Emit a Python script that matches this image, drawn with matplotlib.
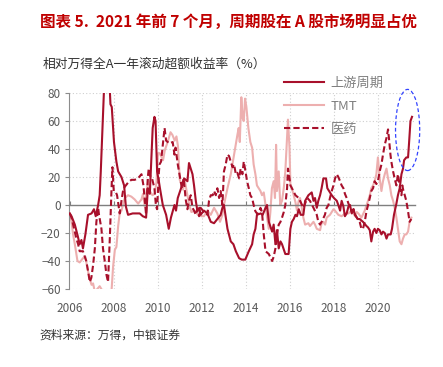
import matplotlib
matplotlib.use("Agg")
import matplotlib.pyplot as plt
from matplotlib.patches import Ellipse

plt.rcParams['font.family'] = ['Noto Sans CJK SC', 'DejaVu Sans']

# ---------------- data ----------------
up_years = [2006.00, 2006.08, 2006.23, 2006.36, 2006.45, 2006.53, 2006.60, 2006.71, 2006.83, 2006.99,
            2007.10, 2007.18, 2007.29, 2007.36, 2007.41, 2007.47, 2007.55, 2007.64, 2007.77, 2007.85,
            2007.91, 2008.01, 2008.12, 2008.20, 2008.35, 2008.47, 2008.55, 2008.65, 2008.86, 2009.18,
            2009.32, 2009.47, 2009.55, 2009.64, 2009.77, 2009.85, 2009.90, 2009.97, 2010.05, 2010.10,
            2010.23, 2010.38, 2010.50, 2010.60, 2010.76, 2010.83, 2010.91, 2011.06, 2011.20, 2011.35,
            2011.42, 2011.58, 2011.65, 2011.73, 2011.80, 2011.89, 2011.95, 2012.10, 2012.26, 2012.41,
            2012.56, 2012.71, 2012.86, 2012.94, 2013.01, 2013.17, 2013.32, 2013.44, 2013.55, 2013.70,
            2013.82, 2013.98, 2014.14, 2014.29, 2014.36, 2014.44, 2014.51, 2014.68, 2014.77, 2014.90,
            2014.97, 2015.05, 2015.20, 2015.27, 2015.35, 2015.42, 2015.50, 2015.58, 2015.65, 2015.80,
            2015.95, 2016.03, 2016.10, 2016.18, 2016.26, 2016.33, 2016.41, 2016.50, 2016.62, 2016.70,
            2016.85, 2017.00, 2017.08, 2017.15, 2017.23, 2017.30, 2017.38, 2017.45, 2017.53, 2017.65,
            2017.71, 2017.79, 2017.91, 2018.01, 2018.14, 2018.21, 2018.29, 2018.36, 2018.44, 2018.51,
            2018.59, 2018.67, 2018.74, 2018.82, 2018.90, 2018.97, 2019.09, 2019.18, 2019.33, 2019.49,
            2019.56, 2019.64, 2019.71, 2019.79, 2019.86, 2019.94, 2020.01, 2020.09, 2020.17, 2020.24,
            2020.32, 2020.40, 2020.47, 2020.59, 2020.65, 2020.74, 2020.85, 2020.92, 2021.00, 2021.08,
            2021.15, 2021.20, 2021.30, 2021.38, 2021.42, 2021.49, 2021.56]
up_vals = [-6, -8, -14, -22, -28, -25, -31, -21, -7, -6,
           -3, -8, 0, 7, 24, 48, 80, 100, 100, 72,
           70, 45, 31, 24, 20, 14, -1, -7, -6, -6,
           -8, -9, 12, 8, 55, 63, 60, 24, 17, 12,
           0, -7, -17, -9, 0, -4, 5, 12, 19, 17,
           30, 22, 14, 3, -4, -2, -7, -4, -6, -12,
           -13, -10, -7, -2, 0, -17, -26, -28, -33, -38,
           -39, -39, -33, -28, -21, -17, -7, -6, -7, -2,
           0, -12, -19, -14, -28, -18, -31, -26, -28, -35,
           -35, -17, -12, -10, -7, -8, -3, -7, -7, 3,
           7, 9, 3, 5, -2, 3, 7, 12, 19, 19,
           12, 10, 7, 5, 3, 0, -4, 3, -1, -8,
           -6, -1, 0, -6, -3, -7, -10, -10, -12, -15,
           -16, -18, -26, -19, -17, -20, -17, -18, -21, -19,
           -20, -24, -21, -21, -17, -7, 1, 7, 12, 22,
           26, 32, 34, 34, 43, 60, 63]

tmt_years = [2006.00, 2006.08, 2006.15, 2006.23, 2006.35, 2006.45, 2006.60, 2006.71, 2006.80, 2006.91,
             2006.99, 2007.06, 2007.14, 2007.36, 2007.55, 2007.80, 2007.90, 2007.97, 2008.05, 2008.12,
             2008.20, 2008.27, 2008.35, 2008.50, 2008.65, 2008.80, 2008.95, 2009.11, 2009.26, 2009.33,
             2009.41, 2009.48, 2009.56, 2009.64, 2009.76, 2009.86, 2009.94, 2010.01, 2010.09, 2010.24,
             2010.32, 2010.47, 2010.58, 2010.67, 2010.77, 2010.85, 2010.92, 2011.00, 2011.15, 2011.23,
             2011.30, 2011.45, 2011.53, 2011.68, 2011.83, 2011.99, 2012.10, 2012.26, 2012.41, 2012.56,
             2012.71, 2012.83, 2012.94, 2013.01, 2013.17, 2013.32, 2013.47, 2013.55, 2013.62, 2013.68,
             2013.73, 2013.80, 2013.86, 2013.91, 2013.97, 2014.03, 2014.12, 2014.21, 2014.29, 2014.36,
             2014.44, 2014.51, 2014.59, 2014.67, 2014.74, 2014.82, 2014.90, 2014.97, 2015.05, 2015.12,
             2015.19, 2015.27, 2015.33, 2015.38, 2015.42, 2015.50, 2015.57, 2015.65, 2015.73, 2015.80,
             2015.88, 2015.92, 2015.99, 2016.03, 2016.10, 2016.18, 2016.26, 2016.33, 2016.41, 2016.47,
             2016.55, 2016.62, 2016.70, 2016.85, 2016.92, 2017.08, 2017.15, 2017.23, 2017.38, 2017.45,
             2017.53, 2017.61, 2017.68, 2017.83, 2017.99, 2018.06, 2018.21, 2018.36, 2018.51, 2018.67,
             2018.82, 2018.97, 2019.05, 2019.12, 2019.26, 2019.41, 2019.56, 2019.64, 2019.71, 2019.79,
             2019.86, 2019.94, 2020.01, 2020.09, 2020.17, 2020.24, 2020.32, 2020.40, 2020.47, 2020.55,
             2020.62, 2020.70, 2020.77, 2020.85, 2020.92, 2021.00, 2021.08, 2021.15, 2021.23, 2021.30,
             2021.38, 2021.45, 2021.53]
tmt_vals = [-6, -12, -21, -28, -40, -41, -38, -37, -45, -53,
            -57, -56, -62, -58, -63, -62, -61, -44, -32, -30,
            -15, -6, -4, 5, 7, 6, 4, 1, 4, 8,
            -1, 8, 18, 10, 7, 8, 16, 37, 37, 32,
            39, 46, 52, 50, 46, 49, 42, 18, 11, 18,
            11, -1, -5, -4, -7, -8, -8, -4, -7, -2,
            -6, -12, -7, 0, 12, 22, 36, 43, 50, 55,
            45, 77, 62, 60, 76, 70, 55, 45, 41, 29,
            22, 14, 12, 10, 7, 9, 0, -9, -17, -5,
            12, 17, 5, 43, 10, 24, 0, 3, 12, 24,
            48, 61, 41, 15, 12, 7, 2, -4, 3, 5,
            -2, -9, -14, -13, -15, -12, -14, -17, -18, -13,
            -12, -14, -9, -7, -3, -4, -7, -8, -6, -6,
            -4, -8, -5, -6, -9, -4, 3, 7, 12, 14,
            17, 22, 34, 19, 10, 17, 22, 26, 19, 14,
            7, 3, -2, -9, -17, -26, -28, -24, -21, -21,
            -19, -12, -9]

med_years = [2006.00, 2006.08, 2006.20, 2006.30, 2006.38, 2006.45, 2006.60, 2006.75, 2006.83, 2006.91,
             2006.98, 2007.06, 2007.14, 2007.21, 2007.29, 2007.33, 2007.44, 2007.51, 2007.59, 2007.67,
             2007.74, 2007.82, 2007.90, 2007.94, 2008.00, 2008.10, 2008.15, 2008.23, 2008.27, 2008.35,
             2008.42, 2008.50, 2008.65, 2008.80, 2008.95, 2009.10, 2009.26, 2009.35, 2009.40, 2009.47,
             2009.55, 2009.59, 2009.67, 2009.74, 2009.85, 2009.92, 2009.97, 2010.05, 2010.08, 2010.15,
             2010.23, 2010.31, 2010.38, 2010.53, 2010.68, 2010.76, 2010.81, 2010.91, 2010.99, 2011.10,
             2011.18, 2011.27, 2011.35, 2011.40, 2011.50, 2011.58, 2011.65, 2011.73, 2011.80, 2011.88,
             2011.95, 2012.10, 2012.26, 2012.33, 2012.41, 2012.50, 2012.56, 2012.64, 2012.71, 2012.79,
             2012.86, 2012.94, 2013.01, 2013.09, 2013.17, 2013.24, 2013.32, 2013.40, 2013.47, 2013.55,
             2013.62, 2013.70, 2013.77, 2013.85, 2013.91, 2013.99, 2014.06, 2014.14, 2014.21, 2014.29,
             2014.36, 2014.44, 2014.51, 2014.59, 2014.67, 2014.74, 2014.82, 2014.90, 2015.05, 2015.20,
             2015.27, 2015.35, 2015.42, 2015.50, 2015.58, 2015.65, 2015.73, 2015.80, 2015.88, 2015.92,
             2015.99, 2016.03, 2016.10, 2016.26, 2016.41, 2016.47, 2016.62, 2016.80, 2016.92, 2017.08,
             2017.23, 2017.30, 2017.38, 2017.45, 2017.60, 2017.68, 2017.76, 2017.83, 2017.91, 2017.99,
             2018.06, 2018.14, 2018.21, 2018.29, 2018.36, 2018.44, 2018.51, 2018.59, 2018.67, 2018.74,
             2018.82, 2018.90, 2018.97, 2019.05, 2019.18, 2019.26, 2019.33, 2019.41, 2019.49, 2019.56,
             2019.64, 2019.71, 2019.79, 2019.86, 2019.94, 2020.01, 2020.09, 2020.17, 2020.24, 2020.32,
             2020.40, 2020.47, 2020.51, 2020.58, 2020.62, 2020.70, 2020.77, 2020.85, 2020.92, 2021.00,
             2021.08, 2021.12, 2021.17, 2021.23, 2021.30, 2021.38, 2021.45, 2021.53]
med_vals = [-6, -9, -17, -24, -28, -33, -33, -40, -47, -55,
            -52, -43, -31, -12, -2, -7, -17, -31, -40, -50,
            -55, -24, 12, 27, 10, 9, 7, -2, -6, 3,
            10, 13, 16, 18, 18, 19, 22, 14, 5, -7,
            20, 26, 20, 19, 12, -1, -3, 23, 29, 31,
            43, 55, 46, 44, 45, 36, 41, 29, 22, 12,
            19, 4, -3, 2, 7, -2, -4, -7, -3, -8,
            -2, -5, -7, 3, 7, 7, 10, 7, 12, 5,
            10, 0, 24, 29, 36, 35, 31, 27, 29, 22,
            23, 19, 26, 22, 31, 24, 17, 12, 7, 5,
            0, -4.5, -6, -6, -2, -5, -21, -33, -35, -40,
            -37, -31, -21, -14, -12, -9, -5, 0, 12, 26,
            19, 14, 12, 7, 5, 3, -2, 5, 3, -2,
            -7, -12, -14, -12, -7, -2, 0, 5, 10, 14,
            19, 22, 20, 17, 14, 12, 8, 5, 1, -1,
            -4.5, -3, -7, -9, -12, -17, -17, -12, -4.5, 0,
            5, 10, 12, 17, 15, 17, 24, 29, 36, 43,
            48, 54, 48, 36, 31, 24, 19, 14, 22, 14,
            7, 14, 10, 7, 3, -4.5, -12, -10]

series_names = ['上游周期', 'TMT', '医药']
x_ticks = [2006, 2008, 2010, 2012, 2014, 2016, 2018, 2020]
y_ticks = [-60, -40, -20, 0, 20, 40, 60, 80]

# ---------------- figure ----------------
DARK = '#A8102B'
PINK = '#EDAFAF'
GRAY = '#595959'

fig = plt.figure(figsize=(4.43, 3.67), dpi=100)
ax = fig.add_axes([0.156, 0.2125, 0.781, 0.534])

ax.set_xlim(2005.97, 2021.7)
ax.set_ylim(-60, 80)

# grid
for y in y_ticks:
    if y != 0:
        ax.axhline(y, color='#CFCFCF', lw=0.8, ls=(0, (1, 2)), zorder=0)
for x in x_ticks[1:]:
    ax.axvline(x, color='#CFCFCF', lw=0.8, ls=(0, (1, 2)), zorder=0)

l1, = ax.plot(up_years, up_vals, color=DARK, lw=1.5, zorder=3, label=series_names[0])
l2, = ax.plot(tmt_years, tmt_vals, color=PINK, lw=1.5, zorder=2, label=series_names[1])
l3, = ax.plot(med_years, med_vals, color=DARK, lw=1.5, ls=(0, (3, 1.5)), zorder=3,
              label=series_names[2])

# spines / axes
for s in ['top', 'right']:
    ax.spines[s].set_visible(False)
ax.spines['left'].set_color('#8C8C8C')
ax.spines['left'].set_linewidth(0.8)
ax.spines['bottom'].set_position(('data', 0))
ax.spines['bottom'].set_color('#7F7F7F')
ax.spines['bottom'].set_linewidth(1.0)

ax.set_xticks(x_ticks)
ax.set_yticks(y_ticks)
ax.tick_params(axis='y', direction='out', length=3, color='#8C8C8C', labelsize=8.5,
               labelcolor=GRAY, pad=3)
ax.tick_params(axis='x', direction='in', length=3, color='#7F7F7F', labelsize=8.5,
               labelcolor=GRAY, pad=69.5)

# ellipse highlight
ell = Ellipse((2021.36, 53.6), 1.1, 58, fill=False, edgecolor='#3344FF', lw=0.9,
              ls=(0, (3, 2)), clip_on=False, zorder=4)
ax.add_patch(ell)

# legend
leg = fig.legend(handles=[l1, l2, l3], loc='upper left', bbox_to_anchor=(0.63, 0.805),
                 frameon=False, fontsize=9.5, handlelength=3.0, handletextpad=0.5,
                 labelspacing=0.75, borderaxespad=0)
for t in leg.get_texts():
    t.set_color('#7F7F7F')

# texts
fig.text(0.09, 0.94, '图表 5.  2021 年前 7 个月，周期股在 A 股市场明显占优',
         ha='left', va='center', fontsize=11.2, fontweight='bold', color='#C00000')
fig.text(0.097, 0.825, '相对万得全A一年滚动超额收益率（%）', ha='left', va='center',
         fontsize=9.2, color='#333333')
fig.text(0.09, 0.087, '资料来源：万得，中银证券', ha='left', va='center', fontsize=8.5,
         color='#333333', style='italic')

fig.savefig('out.png', dpi=100)
